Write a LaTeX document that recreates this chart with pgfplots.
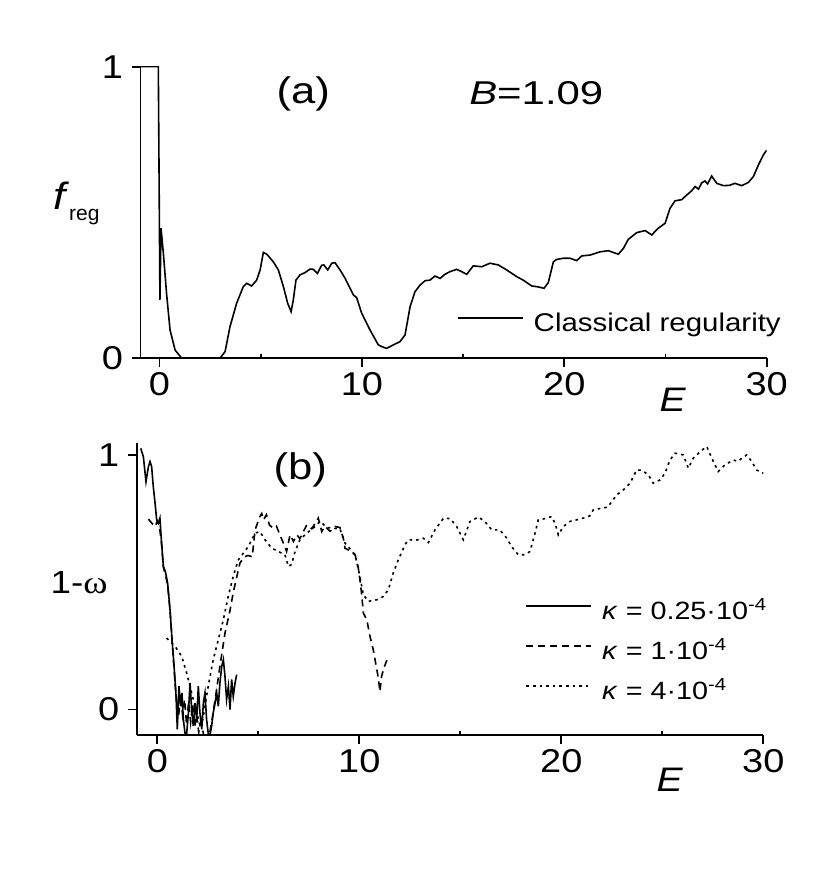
\documentclass[border=0pt]{standalone}
\usepackage{pgfplots}
\pgfplotsset{compat=1.18}
\usepackage{fontspec}
\setmainfont{Liberation Sans}
\newfontfamily\seriffont{Liberation Serif}
\newcommand{\sx}[1]{\scalebox{1.15}[1]{#1}}
\pgfplotstableread{
x y
-0.94 1
-0.06 1
0.02 0.2
0.075 0.446
0.19 0.36
0.35 0.22
0.52 0.097
0.77 0.028
1.1 0
2.99 0
3.24 0.023
3.48 0.108
3.81 0.189
4.14 0.246
4.31 0.257
4.55 0.248
4.8 0.268
4.97 0.303
5.13 0.363
5.3 0.357
5.62 0.331
5.87 0.303
6.12 0.246
6.33 0.189
6.5 0.16
6.61 0.2
6.74 0.268
6.94 0.286
7.19 0.294
7.44 0.306
7.6 0.305
7.8 0.291
8.01 0.319
8.12 0.32
8.31 0.303
8.51 0.326
8.67 0.328
8.92 0.303
9.17 0.274
9.58 0.217
9.74 0.208
9.99 0.154
10.4 0.097
10.81 0.046
10.98 0.04
11.22 0.034
11.55 0.046
11.88 0.057
12.13 0.08
12.38 0.177
12.62 0.228
12.87 0.251
13.12 0.266
13.36 0.268
13.61 0.282
13.86 0.274
14.1 0.288
14.35 0.297
14.68 0.305
14.9 0.298
15.18 0.288
15.5 0.317
15.92 0.314
16.33 0.326
16.74 0.32
17.15 0.303
17.65 0.28
17.97 0.268
18.39 0.248
18.7 0.245
19.0 0.24
19.21 0.26
19.46 0.331
19.62 0.339
19.95 0.343
20.28 0.343
20.61 0.335
20.86 0.351
21.27 0.354
21.76 0.365
22.17 0.369
22.67 0.357
22.92 0.377
23.16 0.408
23.58 0.431
23.99 0.438
24.32 0.423
24.64 0.446
24.98 0.463
25.22 0.514
25.47 0.54
25.8 0.544
26.05 0.56
26.3 0.575
26.46 0.589
26.63 0.58
26.79 0.602
26.95 0.608
27.08 0.598
27.28 0.625
27.53 0.6
27.86 0.592
28.15 0.593
28.43 0.6
28.76 0.592
29.09 0.603
29.34 0.623
29.59 0.663
29.83 0.697
30.0 0.714
}\freg
\pgfplotstableread{
x y
-0.82 1.026
-0.69 0.993
-0.56 0.895
-0.44 0.954
-0.36 0.974
-0.28 0.954
-0.20 0.876
-0.11 0.81
-0.03 0.745
0.05 0.732
0.13 0.752
0.2 0.667
0.3 0.562
0.4 0.542
0.51 0.497
0.63 0.392
0.73 0.275
0.83 0.17
0.93 0.052
0.99 -0.078
1.07 0.092
1.16 0.013
1.22 0.065
1.29 -0.039
1.37 -0.092
1.45 -0.098
1.54 -0.013
1.62 0.105
1.70 0
1.78 -0.065
1.87 0.026
1.95 -0.039
2.03 0.092
2.11 -0.013
2.20 -0.078
2.28 0.026
2.36 0.065
2.44 -0.039
2.53 -0.1
2.61 -0.1
2.69 -0.065
2.77 -0.013
2.86 0.026
2.94 0.065
3.02 0.013
3.10 0.105
3.19 0.17
3.27 0.196
3.35 0.131
3.43 0.039
3.52 0.092
3.60 0
3.68 0.118
3.76 0.052
3.85 0.105
3.93 0.137
}\ka
\pgfplotstableread{
x y
-0.44 0.748
-0.25 0.73
-0.11 0.719
0.0 0.74
0.1 0.72
0.2 0.66
0.3 0.56
0.4 0.53
0.51 0.49
0.63 0.39
0.73 0.27
0.83 0.16
0.93 0.05
1.05 -0.03
1.15 0.06
1.25 -0.02
1.35 0.04
1.45 -0.06
1.55 0.03
1.65 -0.05
1.75 0.02
1.85 -0.07
1.95 -0.02
2.05 -0.09
2.15 -0.05
2.3 -0.1
2.45 -0.1
2.6 -0.09
2.75 -0.02
2.9 0.06
3.1 0.17
3.35 0.30
3.6 0.39
3.76 0.46
3.93 0.52
4.09 0.575
4.3 0.60
4.5 0.605
4.7 0.60
4.84 0.706
5.08 0.758
5.17 0.77
5.26 0.745
5.4 0.765
5.55 0.725
5.74 0.712
5.9 0.72
6.07 0.686
6.24 0.654
6.4 0.621
6.57 0.686
6.74 0.66
6.9 0.686
7.06 0.672
7.23 0.699
7.4 0.725
7.65 0.71
7.97 0.752
8.14 0.699
8.3 0.72
8.55 0.70
8.8 0.719
9.04 0.715
9.21 0.673
9.29 0.634
9.5 0.625
9.79 0.608
9.95 0.556
10.03 0.51
10.12 0.451
10.2 0.379
10.37 0.353
10.53 0.287
10.69 0.235
10.86 0.16
10.95 0.12
11.02 0.07
11.1 0.13
11.25 0.17
11.44 0.21
}\kb
\pgfplotstableread{
x y
0.46 0.281
0.88 0.248
1.21 0.209
1.45 0.144
1.70 0.065
1.95 -0.013
2.11 -0.06
2.25 -0.04
2.52 0.092
2.77 0.196
3.02 0.275
3.27 0.353
3.51 0.444
3.76 0.523
4.01 0.588
4.26 0.614
4.5 0.64
4.84 0.693
5.08 0.699
5.33 0.667
5.66 0.634
5.99 0.621
6.32 0.608
6.49 0.562
6.65 0.57
6.82 0.621
7.06 0.667
7.4 0.693
7.81 0.719
8.05 0.739
8.4 0.715
8.71 0.712
9.04 0.71
9.29 0.654
9.79 0.608
10.03 0.523
10.2 0.451
10.45 0.425
10.86 0.431
11.19 0.444
11.44 0.471
11.68 0.536
11.93 0.588
12.26 0.647
12.43 0.667
12.8 0.665
13.17 0.673
13.42 0.656
13.75 0.706
14.17 0.752
14.5 0.75
14.82 0.719
15.15 0.667
15.48 0.739
15.89 0.756
16.2 0.74
16.55 0.706
16.95 0.706
17.3 0.673
17.54 0.64
17.87 0.608
18.2 0.608
18.45 0.621
18.7 0.693
18.86 0.745
19.2 0.75
19.52 0.758
19.7 0.73
19.85 0.686
20.1 0.719
20.43 0.739
20.76 0.745
21.09 0.752
21.4 0.76
21.58 0.784
22.0 0.791
22.3 0.795
22.5 0.817
22.74 0.843
23.07 0.863
23.4 0.889
23.73 0.941
23.98 0.94
24.31 0.922
24.55 0.889
24.89 0.902
25.13 0.928
25.38 0.98
25.63 1.007
26.04 1.0
26.29 0.948
26.53 0.987
26.87 1.013
27.2 1.033
27.45 0.987
27.77 0.935
28.1 0.961
28.51 0.98
28.75 0.975
28.93 0.987
29.18 1.0
29.43 0.974
29.67 0.941
30.0 0.928
}\kc
\pgfplotsset{
  common/.style={
    scale only axis,
    anchor=south west,
    axis lines=left,
    axis line style={-, line width=0.9pt},
    clip mode=individual,
    tick align=outside,
    major tick length=4.5pt,
    tick style={line width=0.9pt, black},
    xmax=30,
    xtick={0,10,20,30},
    xticklabels={\sx{0},\sx{10},\sx{20},\sx{30}},
    ytick={0,1},
    yticklabels={\sx{0},\sx{1}},
    extra x ticks={5,15,25},
    extra x tick labels={},
    extra x tick style={tick align=inside, major tick length=2pt},
    ticklabel style={font=\fontsize{16.5}{19}\selectfont},
    xticklabel style={inner sep=2.5pt},
    yticklabel style={inner sep=4pt},
    legend cell align=left,
    legend image code/.code={\draw[##1] (0pt,3.5pt) -- (32.5pt,3.5pt);},
  },
}
\begin{document}
\begin{tikzpicture}
\path[use as bounding box] (0,0) rectangle (416pt,435.5pt);
\begin{axis}[common,
  at={(70.25pt,256.35pt)}, width=313.1pt, height=145.8pt,
  xmin=-0.94, ymin=0, ymax=1,
  legend style={at={(axis description cs:0.505,0.114)}, anchor=west,
    draw=none, fill=none, inner sep=0pt,
    font=\fontsize{12.8}{15}\selectfont,
    nodes={inner sep=0pt, text height=9pt, text depth=3pt}, column sep=5pt},
]
\addplot[black, line width=0.8pt] table {\freg};
\addlegendentry{\sx{Classical regularity}}
\node[font=\fontsize{18.5}{22}\selectfont] at (axis description cs:0.26,0.906) {\scalebox{1.18}[1]{(a)}};
\node[font=\fontsize{16.5}{20}\selectfont] at (axis description cs:0.632,0.91) {\scalebox{1.27}[1]{\textit{B}=1.09}};
\node[font=\fontsize{17}{20}\selectfont] at (axis description cs:0.85,-0.143) {\sx{\textit{E}}};
\node[anchor=base west, inner sep=0pt] at (axis description cs:-0.14,0.509)
  {{\fontsize{19}{22}\selectfont\sx{\textit{f}}}\raisebox{-5.5pt}{\fontsize{10.5}{13}\selectfont reg}};
\end{axis}
\begin{axis}[common,
  at={(68.35pt,68pt)}, width=313.3pt, height=146pt,
  xmin=-1.02, ymin=-0.1, ymax=1.047,
  legend style={at={(axis description cs:0.62,0.46)}, anchor=north west,
    draw=none, fill=none, inner sep=0pt,
    font=\fontsize{12.5}{15}\selectfont,
    nodes={inner sep=0pt, text height=9pt, text depth=3pt}, column sep=5pt, row sep=8pt},
]
\addplot[black, line width=0.8pt] table {\ka};
\addlegendentry{\sx{\textit{κ} = 0.25·10\textsuperscript{-4}}}
\addplot[black, line width=0.8pt, dash pattern=on 3.5pt off 2.5pt] table {\kb};
\addlegendentry{\sx{\textit{κ} = 1·10\textsuperscript{-4}}}
\addplot[black, line width=0.8pt, dash pattern=on 1.3pt off 2pt] table {\kc};
\addlegendentry{\sx{\textit{κ} = 4·10\textsuperscript{-4}}}
\node[font=\fontsize{18.5}{22}\selectfont] at (axis description cs:0.261,0.908) {\scalebox{1.18}[1]{(b)}};
\node[font=\fontsize{17}{20}\selectfont] at (axis description cs:0.851,-0.154) {\sx{\textit{E}}};
\node[anchor=base west, inner sep=0pt, font=\fontsize{16}{19}\selectfont] at (axis description cs:-0.138,0.486)
  {\sx{1-{\seriffont ω}}};
\end{axis}
\end{tikzpicture}
\end{document}
